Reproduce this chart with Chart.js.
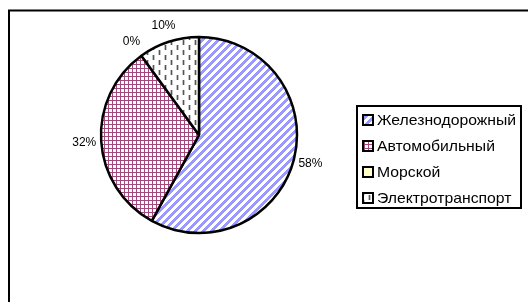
<!DOCTYPE html>
<html>
<head>
<meta charset="utf-8">
<script src="https://cdn.jsdelivr.net/npm/chart.js@4/dist/chart.umd.min.js"></script>
<style>
  html, body { margin: 0; padding: 0; background: #fff; }
  #wrap { width: 528px; height: 302px; }
</style>
</head>
<body>
<div id="wrap"><canvas id="transportPie" width="528" height="302"></canvas></div>
<script>
// Chart data
const categories = ['Железнодорожный', 'Автомобильный', 'Морской', 'Электротранспорт'];
const shares = [58, 32, 0, 10];
const shareLabels = ['58%', '32%', '0%', '10%'];

// Build a repeating fill from a small tile
function makePattern(w, h, drawTile) {
    const tile = document.createElement('canvas');
    tile.width = w;
    tile.height = h;
    const g = tile.getContext('2d');
    g.fillStyle = '#fff';
    g.fillRect(0, 0, w, h);
    drawTile(g);
    return g.createPattern(tile, 'repeat');
}

// wide upward diagonal, light blue
const stripes = makePattern(8, 8, g => {
    g.fillStyle = '#9999ff';
    for (let x = 0; x < 8; x++) {
        for (let y = 0; y < 8; y++) {
            if ((x + y) % 8 < 4) g.fillRect(x, y, 1, 1);
        }
    }
});

// small grid, plum
const grid = makePattern(4, 4, g => {
    g.fillStyle = '#a3487a';
    g.fillRect(0, 0, 4, 1);
    g.fillRect(0, 0, 1, 4);
});

// dashed vertical lines
const dashes = makePattern(12, 10, g => {
    g.fillStyle = '#c4c4c4';
    g.fillRect(2, 0, 3, 5);
    g.fillRect(8, 5, 3, 5);
    g.fillStyle = '#555';
    g.fillRect(3, 0, 1, 5);
    g.fillRect(9, 5, 1, 5);
});

const fills = [stripes, grid, '#ffffcc', dashes];

// outer chart frame (runs off the right and bottom edges)
const framePlugin = {
    id: 'frame',
    beforeDraw(chart) {
        const c = chart.ctx;
        c.save();
        c.strokeStyle = '#000';
        c.lineWidth = 2;
        c.strokeRect(9, 10.5, 700, 400);
        c.restore();
    }
};

// percentage labels outside the slices
const labelPlugin = {
    id: 'pctLabels',
    afterDatasetsDraw(chart) {
        const c = chart.ctx;
        const arcs = chart.getDatasetMeta(0).data;
        c.save();
        c.fillStyle = '#000';
        c.font = '12px "Liberation Sans", Arial, sans-serif';
        c.textAlign = 'center';
        c.textBaseline = 'middle';
        arcs.forEach((arc, i) => {
            const mid = (arc.startAngle + arc.endAngle) / 2;
            const r = arc.outerRadius + 17;
            c.fillText(shareLabels[i], arc.x + Math.cos(mid) * r, arc.y + Math.sin(mid) * r);
        });
        c.restore();
    }
};

// legend box on the right
const legendPlugin = {
    id: 'boxLegend',
    afterDraw(chart) {
        const c = chart.ctx;
        c.save();
        c.strokeStyle = '#000';
        c.lineWidth = 2;
        c.strokeRect(357, 106, 164, 102);
        c.font = '15px "Liberation Sans", Arial, sans-serif';
        c.textBaseline = 'middle';
        c.textAlign = 'left';
        categories.forEach((name, i) => {
            const y = 120 + i * 26;
            c.fillStyle = fills[i];
            c.fillRect(363, y - 5, 10, 10);
            c.lineWidth = 2;
            c.strokeRect(363, y - 5, 10, 10);
            c.fillStyle = '#000';
            // the original text is set a little wide
            c.save();
            c.translate(377, y + 1);
            c.scale(1.05, 1);
            c.fillText(name, 0, 0);
            c.restore();
        });
        c.restore();
    }
};

const ctx = document.getElementById('transportPie').getContext('2d');
const transportPie = new Chart(ctx, {
    type: 'pie',
    data: {
        labels: categories,
        datasets: [{
            data: shares,
            backgroundColor: fills,
            borderColor: '#000',
            borderWidth: 2.5,
            radius: 98
        }]
    },
    options: {
        responsive: false,
        animation: false,
        layout: { padding: { left: 0, right: 130, top: 0, bottom: 32 } },
        plugins: {
            legend: { display: false },
            tooltip: { enabled: false }
        }
    },
    plugins: [framePlugin, labelPlugin, legendPlugin]
});
</script>
</body>
</html>
